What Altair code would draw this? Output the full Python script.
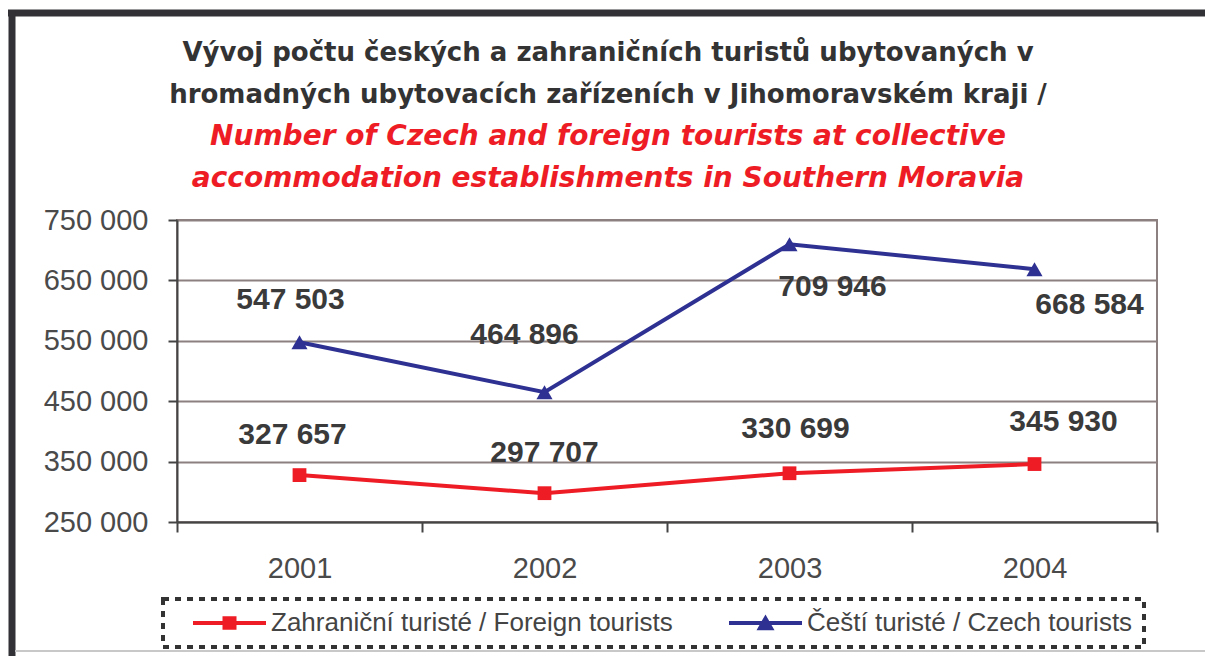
import altair as alt
import pandas as pd

# ---- data ----
years = [2001, 2002, 2003, 2004]
foreign = [327657, 297707, 330699, 345930]
czech = [547503, 464896, 709946, 668584]
series_names = ["Zahraniční turisté / Foreign tourists", "Čeští turisté / Czech tourists"]
y_ticks = [250000, 350000, 450000, 550000, 650000, 750000]
x_ticks = [2000.5, 2001, 2001.5, 2002, 2002.5, 2003, 2003.5, 2004, 2004.5]

title_lines = [
    "Vývoj počtu českých a zahraničních turistů ubytovaných v",
    "hromadných ubytovacích zařízeních  v Jihomoravském kraji /",
]
subtitle_lines = [
    "Number of Czech and foreign tourists at collective",
    "accommodation establishments in Southern Moravia",
]

RED = "#ee1c25"
BLUE = "#2e3192"
TEXT = "#3a3a3a"

df = pd.DataFrame({
    "year": years + years,
    "value": foreign + czech,
    "series": [series_names[0]] * 4 + [series_names[1]] * 4,
    "idx": list(range(4)) * 2,
})

x_enc = alt.X(
    "year:Q",
    scale=alt.Scale(domain=[2000.5, 2004.5], nice=False, zero=False),
    axis=alt.Axis(
        values=x_ticks,
        labelExpr="datum.value % 1 === 0 ? format(datum.value, 'd') : ''",
        tickOpacity={"condition": {"test": "datum.value % 1 !== 0", "value": 1}, "value": 0},
        grid=False,
        title=None,
        labelFontSize=29,
        labelFont="Liberation Sans",
        labelColor="#4a4a4a",
        labelPadding=22,
        tickSize=10,
        tickWidth=2,
        tickColor="#444444",
        domainColor="#444444",
        domainWidth=2,
    ),
)
y_enc = alt.Y(
    "value:Q",
    scale=alt.Scale(domain=[250000, 750000], nice=False, zero=False),
    axis=alt.Axis(
        values=y_ticks,
        format=",d",
        title=None,
        labelFontSize=29,
        labelFont="Liberation Sans",
        labelColor="#4a4a4a",
        labelPadding=20,
        tickSize=9,
        tickWidth=2,
        tickColor="#444444",
        domainColor="#444444",
        domainWidth=2,
        gridColor="#8c8080",
        gridWidth=2,
    ),
)

base = alt.Chart(df)

layers = []
styles = [
    (series_names[0], RED, "square", 190),
    (series_names[1], BLUE, "triangle-up", 260),
]
for name, col, shp, sz in styles:
    sub = base.transform_filter(alt.datum.series == name)
    layers.append(sub.mark_line(color=col, strokeWidth=4).encode(x=x_enc, y=y_enc))
    layers.append(
        sub.mark_point(shape=shp, filled=True, size=sz, opacity=1, color=col, strokeWidth=0)
        .encode(x=x_enc, y=y_enc)
    )

# data labels (offsets are styling only)
label_offsets = {
    series_names[0]: [(-7, -40), (0, -40), (6, -44), (29, -42)],
    series_names[1]: [(-9, -42), (-20, -57), (43, 43), (55, 36)],
}
for name, offs in label_offsets.items():
    for i, (ddx, ddy) in enumerate(offs):
        layers.append(
            base.transform_filter((alt.datum.series == name) & (alt.datum.idx == i))
            .mark_text(font="Liberation Sans", fontSize=30, fontWeight="bold",
                       color=TEXT, dx=ddx, dy=ddy, baseline="middle", align="center")
            .encode(x=x_enc, y=y_enc, text=alt.Text("value:Q", format=",d"))
        )

# legend layer (no marks drawn; only provides the legend)
sq_path = "M0.6,-0.2L7.9,-0.2L7.9,0.2L0.6,0.2Z M3.55,-0.68L4.95,-0.68L4.95,0.68L3.55,0.68Z"
tri_path = "M0.6,-0.2L7.9,-0.2L7.9,0.2L0.6,0.2Z M3.35,0.72L4.25,-0.85L5.15,0.72Z"
leg = alt.Legend(
    title=None, orient="none", legendX=-14, legendY=379, direction="horizontal",
    columns=2, symbolSize=400, labelFontSize=26, labelFont="Liberation Sans",
    labelColor="#444444", labelOffset=71, columnPadding=37, padding=11,
    strokeColor="#333333", symbolStrokeWidth=0, symbolOpacity=1, labelLimit=800,
)
layers.append(
    base.transform_filter("false")
    .mark_point(filled=True, opacity=1)
    .encode(
        color=alt.Color("series:N", scale=alt.Scale(domain=series_names, range=[RED, BLUE]), legend=leg),
        shape=alt.Shape("series:N", scale=alt.Scale(domain=series_names, range=[sq_path, tri_path]), legend=leg),
    )
)

# outer frame decoration
frame_df = pd.DataFrame({"k": [0]})
fr = alt.Chart(frame_df)
layers.append(fr.mark_rule(color="#323135", strokeWidth=7).encode(
    x=alt.value(-169), x2=alt.value(1028), y=alt.value(-207)))
layers.append(fr.mark_rule(color="#323135", strokeWidth=7).encode(
    x=alt.value(-165), y=alt.value(-210), y2=alt.value(436)))
layers.append(fr.mark_rule(color="#c8c8c8", strokeWidth=2).encode(
    x=alt.value(-162), x2=alt.value(1028), y=alt.value(431)))

chart = alt.layer(*layers).properties(
    width=980,
    height=302,
    padding={"left": 177, "top": 220, "right": 48, "bottom": 134},
    autosize=alt.AutoSizeParams(type="none"),
    title=alt.Title(
        text=title_lines,
        subtitle=subtitle_lines,
        anchor="middle",
        dx=-59,
        offset=-186,
        font="DejaVu Sans",
        fontSize=26,
        fontWeight="bold",
        color="#333333",
        lineHeight=42,
        subtitleFont="DejaVu Sans",
        subtitleFontSize=28,
        subtitleFontWeight="bold",
        subtitleFontStyle="italic",
        subtitleColor=RED,
        subtitleLineHeight=42,
        subtitlePadding=15,
    ),
).configure(
    background="white",
    locale={"number": {"decimal": ",", "thousands": " ", "grouping": [3], "currency": ["", " Kč"]}},
).configure_view(
    fill="#c0b6b3", stroke="#8c8080", strokeWidth=2
).configure_legend(
    strokeDash=[6, 6], strokeWidth=4
)

chart.save("out.html", embed_options={"renderer": "svg", "actions": False})
